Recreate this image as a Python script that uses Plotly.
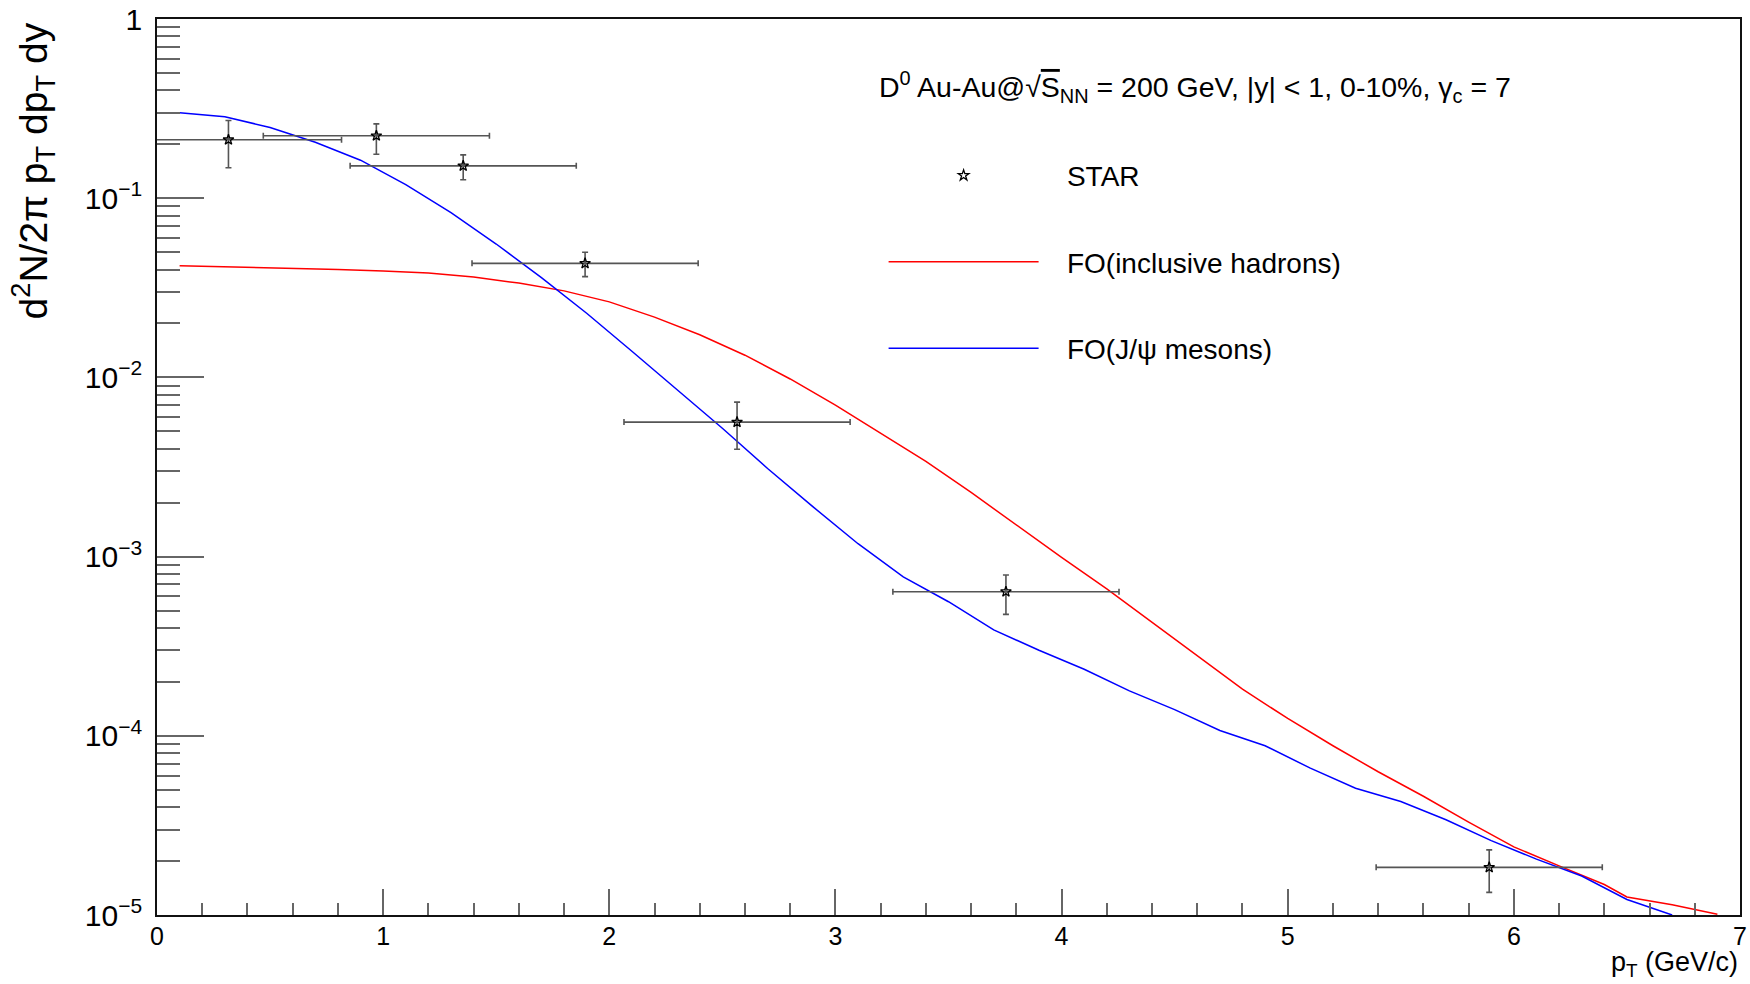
import plotly.graph_objects as go

# STAR D0 data
star_pt = [0.316, 0.970, 1.354, 1.893, 2.565, 3.754, 5.891]
star_y = [0.212, 0.223, 0.1515, 0.0433, 0.00563, 0.000637, 1.845e-5]
star_y_hi = [0.2713, 0.260, 0.1746, 0.0499, 0.00728, 0.000789, 2.31e-5]
star_y_lo = [0.148, 0.176, 0.1267, 0.0365, 0.00397, 0.000476, 1.337e-5]
star_pt_err = [0.5, 0.5, 0.5, 0.5, 0.5, 0.5, 0.5]

# FO (inclusive hadrons)
red_pt = [0.1, 0.5, 0.8, 1.0, 1.2, 1.4, 1.6, 1.8, 2.0, 2.2, 2.4, 2.6, 2.8, 3.0, 3.2, 3.4,
          3.6, 3.8, 4.0, 4.2, 4.4, 4.6, 4.8, 5.0, 5.2, 5.4, 5.6, 5.8, 6.0, 6.2, 6.4, 6.5,
          6.7, 6.9]
red_y = [0.0420, 0.0410, 0.0400, 0.0393, 0.0382, 0.0363, 0.0336, 0.0304, 0.0264, 0.0217,
         0.0173, 0.0133, 0.0098, 0.0070, 0.0049, 0.0034, 0.00228, 0.00150, 0.00099, 0.00066,
         0.00043, 0.00028, 0.000182, 0.000125, 0.000088, 0.000063, 0.0000460, 0.0000330,
         0.0000240, 0.0000188, 0.0000148, 0.0000126, 0.0000114, 0.0000101]

# FO (J/psi mesons)
blue_pt = [0.1, 0.3, 0.5, 0.7, 0.9, 1.1, 1.3, 1.5, 1.7, 1.9, 2.1, 2.3, 2.5, 2.7, 2.9, 3.1,
           3.3, 3.5, 3.7, 3.9, 4.1, 4.3, 4.5, 4.7, 4.9, 5.1, 5.3, 5.5, 5.7, 5.9, 6.1, 6.3,
           6.5, 6.7]
blue_y = [0.300, 0.285, 0.248, 0.205, 0.163, 0.119, 0.083, 0.0555, 0.036, 0.0228, 0.0140,
          0.0085, 0.0052, 0.0031, 0.00190, 0.00118, 0.00077, 0.00056, 0.00039, 0.00030,
          0.000235, 0.000178, 0.000140, 0.000107, 0.000088, 0.000066, 0.000051, 0.000043,
          0.0000340, 0.0000260, 0.0000205, 0.0000165, 0.0000122, 0.0000100]

FONT = "Liberation Sans, Arial, Helvetica, sans-serif"
GAP = "\u00a0" * 3

fig = go.Figure()

fig.add_trace(go.Scatter(
    x=red_pt, y=red_y, mode="lines", name=GAP + "FO(inclusive hadrons)",
    line=dict(color="#ff0000", width=1.5), legendgroup="b", legendrank=2))
fig.add_trace(go.Scatter(
    x=blue_pt, y=blue_y, mode="lines", name=GAP + "FO(J/ψ mesons)",
    line=dict(color="#0000ff", width=1.5), legendgroup="c", legendrank=3))
fig.add_trace(go.Scatter(
    x=star_pt, y=star_y, mode="markers", name=GAP + "STAR",
    marker=dict(symbol="star-open", size=8, color="black", line=dict(width=1.3, color="black")),
    error_x=dict(type="data", array=star_pt_err, symmetric=True, color="#555555",
                 thickness=1.6, width=3),
    error_y=dict(type="data", symmetric=False,
                 array=[h - v for h, v in zip(star_y_hi, star_y)],
                 arrayminus=[v - l for v, l in zip(star_y, star_y_lo)],
                 color="#555555", thickness=1.6, width=3),
    legendgroup="a", legendrank=1))

fig.update_layout(
    width=1750, height=984,
    margin=dict(l=157, r=10, t=19, b=69, autoexpand=False),
    paper_bgcolor="white", plot_bgcolor="white",
    font=dict(family=FONT, color="black"),
    showlegend=True,
    legend=dict(x=0.459, y=0.853, xanchor="left", yanchor="top",
                bgcolor="rgba(0,0,0,0)", borderwidth=0,
                font=dict(size=28, family=FONT),
                itemwidth=150, tracegroupgap=47, traceorder="grouped",
                itemclick=False),
    xaxis=dict(range=[0, 7], showline=True, linecolor="#111111", linewidth=2,
               mirror=True, showgrid=False, zeroline=False, automargin=False,
               ticks="inside", ticklen=26, tickwidth=1.5, tickcolor="#666666",
               dtick=1, tickfont=dict(size=25, family=FONT), ticklabelstandoff=-2,
               minor=dict(ticks="inside", ticklen=12, tickwidth=1.5, tickcolor="#666666",
                          dtick=0.2, showgrid=False)),
    yaxis=dict(type="log", range=[-5, 0], showline=True, linecolor="#111111", linewidth=2,
               mirror=True, showgrid=False, zeroline=False, automargin=False,
               ticks="inside", ticklen=47, tickwidth=1.5, tickcolor="#666666",
               dtick=1, exponentformat="power", tickfont=dict(size=24, family=FONT),
               ticklabelstandoff=8,
               minor=dict(ticks="inside", ticklen=23, tickwidth=1.5, tickcolor="#666666",
                          showgrid=False)),
)

fig.add_annotation(
    text="D<sup>0</sup> Au-Au@√<span style='text-decoration:overline'>S</span><sub>NN</sub> = 200 GeV, |y| < 1, 0-10%, γ<sub>c</sub> = 7",
    xref="paper", yref="paper", x=0.455, y=0.924, xanchor="left", yanchor="middle",
    showarrow=False, font=dict(size=28.5, family=FONT))

fig.add_annotation(
    text="d<sup>2</sup>N/2π p<sub>T</sub> dp<sub>T</sub> dy",
    xref="paper", yref="paper", x=0, y=1, xanchor="center", yanchor="top",
    xshift=-124, yshift=-2, textangle=-90, showarrow=False,
    font=dict(size=39, family=FONT))

fig.add_annotation(
    text="p<sub>T</sub> (GeV/c)",
    xref="paper", yref="paper", x=1, y=0, xanchor="right", yanchor="top",
    yshift=-30, showarrow=False, font=dict(size=27, family=FONT))

fig.write_html("out.html")
